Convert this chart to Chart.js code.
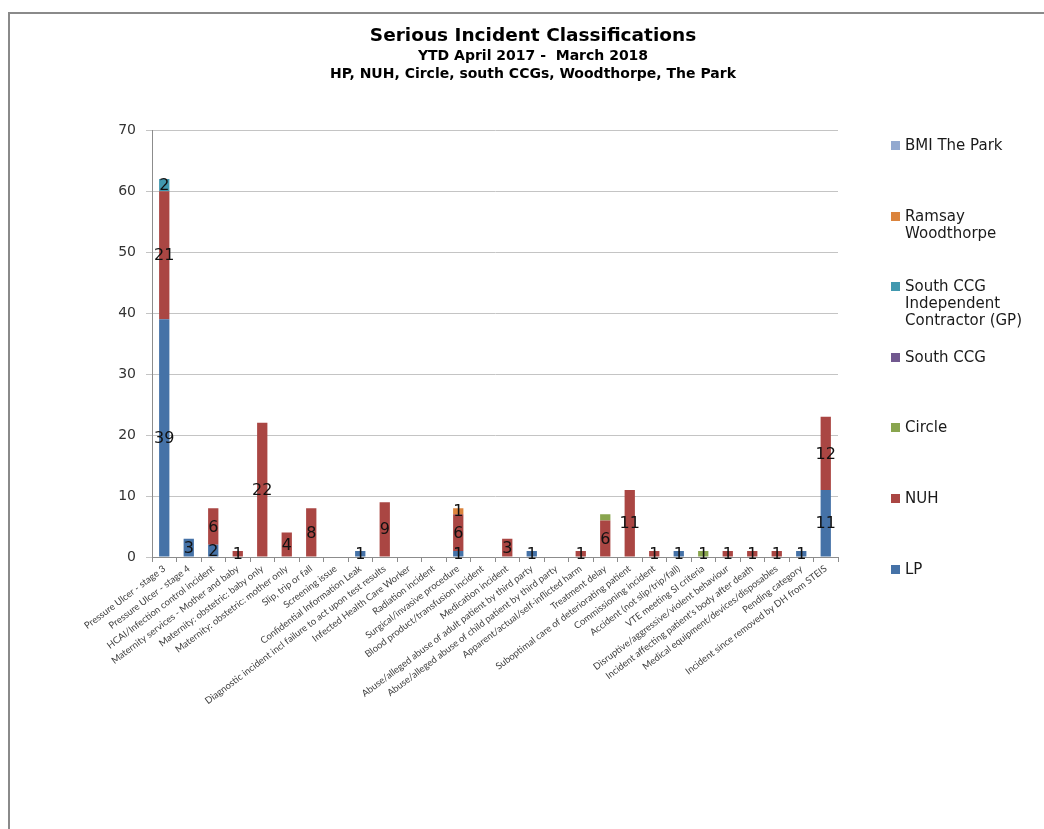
<!DOCTYPE html>
<html>
<head>
<meta charset="utf-8">
<script src="https://cdn.jsdelivr.net/npm/chart.js@4"></script>
<style>
  html, body { margin: 0; padding: 0; background: #fff; overflow: hidden; }
  #frame { position: absolute; left: 8px; top: 12px; width: 1300px; height: 1000px;
           border-top: 2px solid #8a8a8a; border-left: 2px solid #8a8a8a; }
  #wrap { position: absolute; left: 0; top: 0; width: 1044px; height: 829px; }
  #legend { position: absolute; left: 891px; top: 0; font-family: "DejaVu Sans", sans-serif;
            font-size: 15px; line-height: 17px; color: #1a1a1a; }
  .item { position: absolute; left: 0; white-space: nowrap; }
  .box { position: absolute; left: 0; top: 4px; width: 9px; height: 9px; }
  .txt { position: absolute; left: 14px; top: 0; }
</style>
</head>
<body>
<div id="frame"></div>
<div id="wrap"><canvas id="chart" width="1044" height="829"></canvas></div>
<div id="legend"></div>
<script>
// categories and values
const categories = [
  'Pressure Ulcer - stage 3', 'Pressure Ulcer - stage 4', 'HCAI/Infection control incident',
  'Maternity services - Mother and baby', 'Maternity: obstetric: baby only', 'Maternity: obstetric: mother only',
  'Slip, trip or fall', 'Screening issue', 'Confidential Information Leak',
  'Diagnostic incident incl failure to act upon test results', 'Infected Health Care Worker', 'Radiation incident',
  'Surgical/invasive procedure', 'Blood product/transfusion incident', 'Medication incident',
  'Abuse/alleged abuse of adult patient by third party', 'Abuse/alleged abuse of child patient by third party',
  'Apparent/actual/self-inflicted harm', 'Treatment delay', 'Suboptimal care of deteriorating patient',
  'Commissioning incident', 'Accident (not slip/trip/fall)', 'VTE meeting SI criteria',
  'Disruptive/aggressive/violent behaviour', "Incident affecting patient's body after death",
  'Medical equipment/devices/disposables', 'Pending category', 'Incident since removed by DH from STEIS'
];

const lp         = [39, 3, 2, 0, 0, 0, 0, 0, 1, 0, 0, 0, 1, 0, 0, 1, 0, 0, 0, 0, 0, 1, 0, 0, 0, 0, 1, 11];
const nuh        = [21, 0, 6, 1, 22, 4, 8, 0, 0, 9, 0, 0, 6, 0, 3, 0, 0, 1, 6, 11, 1, 0, 0, 1, 1, 1, 0, 12];
const circle     = [0, 0, 0, 0, 0, 0, 0, 0, 0, 0, 0, 0, 0, 0, 0, 0, 0, 0, 1, 0, 0, 0, 1, 0, 0, 0, 0, 0];
const southCcg   = [0, 0, 0, 0, 0, 0, 0, 0, 0, 0, 0, 0, 0, 0, 0, 0, 0, 0, 0, 0, 0, 0, 0, 0, 0, 0, 0, 0];
const southCcgGp = [2, 0, 0, 0, 0, 0, 0, 0, 0, 0, 0, 0, 0, 0, 0, 0, 0, 0, 0, 0, 0, 0, 0, 0, 0, 0, 0, 0];
const ramsay     = [0, 0, 0, 0, 0, 0, 0, 0, 0, 0, 0, 0, 1, 0, 0, 0, 0, 0, 0, 0, 0, 0, 0, 0, 0, 0, 0, 0];
const bmiPark    = [0, 0, 0, 0, 0, 0, 0, 0, 0, 0, 0, 0, 0, 0, 0, 0, 0, 0, 0, 0, 0, 0, 0, 0, 0, 0, 0, 0];

const yTicks = [0, 10, 20, 30, 40, 50, 60, 70];

// the small circle segment on "Treatment delay" has no number in the original
const hiddenLabels = [['Circle', 18]];

const series = [
  { label: 'LP', data: lp, color: '#4572A7' },
  { label: 'NUH', data: nuh, color: '#AA4643' },
  { label: 'Circle', data: circle, color: '#89A54E' },
  { label: 'South CCG', data: southCcg, color: '#71588F' },
  { label: ['South CCG', 'Independent', 'Contractor (GP)'], data: southCcgGp, color: '#4198AF' },
  { label: ['Ramsay', 'Woodthorpe'], data: ramsay, color: '#DB843D' },
  { label: 'BMI The Park', data: bmiPark, color: '#93A9CF' }
];

// numbers in the middle of each segment
const segmentLabels = {
  id: 'segmentLabels',
  afterDatasetsDraw(chart) {
    const ctx = chart.ctx;
    ctx.save();
    ctx.font = '16px "DejaVu Sans"';
    ctx.fillStyle = '#111';
    ctx.textAlign = 'center';
    ctx.textBaseline = 'middle';
    chart.data.datasets.forEach((ds, i) => {
      const name = Array.isArray(ds.label) ? ds.label.join(' ') : ds.label;
      chart.getDatasetMeta(i).data.forEach((bar, j) => {
        const v = ds.data[j];
        if (!v) return;
        if (hiddenLabels.some(h => h[0] === name && h[1] === j)) return;
        ctx.fillText(String(v), bar.x, (bar.y + bar.base) / 2 + 1);
      });
    });
    ctx.restore();
  }
};

const chart = new Chart(document.getElementById('chart'), {
  type: 'bar',
  data: {
    labels: categories,
    datasets: series.map(s => ({
      label: s.label,
      data: s.data,
      backgroundColor: s.color,
      borderWidth: 0,
      barPercentage: 0.42,
      categoryPercentage: 1
    }))
  },
  plugins: [segmentLabels],
  options: {
    responsive: false,
    animation: false,
    devicePixelRatio: 1,
    layout: { padding: { left: 22, right: 0, top: 0, bottom: 0 } },
    plugins: {
      legend: { display: false },
      tooltip: { enabled: false },
      title: {
        display: true,
        text: 'Serious Incident Classifications',
        color: '#000',
        font: { family: 'DejaVu Sans', size: 18.5, weight: 'bold', lineHeight: 1.2 },
        padding: { top: 25, bottom: 0 }
      },
      subtitle: {
        display: true,
        text: ['YTD April 2017 -  March 2018', 'HP, NUH, Circle, south CCGs, Woodthorpe, The Park'],
        color: '#000',
        font: { family: 'DejaVu Sans', size: 14, weight: 'bold', lineHeight: 18 / 14 },
        padding: { top: 0, bottom: 47 }
      }
    },
    scales: {
      x: {
        stacked: true,
        afterFit(scale) { scale.height = 272; },
        grid: { offset: true, drawOnChartArea: false, drawTicks: true, tickLength: 5, color: '#8c8c8c' },
        border: { display: true, color: '#8c8c8c' },
        ticks: {
          autoSkip: false,
          minRotation: 37,
          maxRotation: 37,
          padding: 1,
          color: '#404040',
          font: { family: 'Lato', size: 9.5 }
        }
      },
      y: {
        stacked: true,
        min: 0,
        max: 70,
        afterFit(scale) { scale.width = 130; },
        afterBuildTicks(scale) { scale.ticks = yTicks.map(v => ({ value: v })); },
        grid: { color: '#c4c4c4', tickLength: 6, drawTicks: true },
        border: { display: true, color: '#8c8c8c' },
        ticks: {
          padding: 10,
          color: '#333',
          font: { family: 'DejaVu Sans', size: 14 }
        }
      },
      // empty right-hand strip where the legend sits
      spacer: {
        type: 'linear',
        position: 'right',
        min: 0,
        max: 1,
        afterFit(scale) { scale.width = 206; },
        grid: { display: false },
        border: { display: false },
        ticks: { display: false }
      }
    }
  }
});

// legend: reversed order, first lines 70.6px apart as in the original
const legend = document.getElementById('legend');
series.slice().reverse().forEach((s, i) => {
  const lines = Array.isArray(s.label) ? s.label : [s.label];
  const item = document.createElement('div');
  item.className = 'item';
  item.style.top = (137 + i * 70.6) + 'px';
  item.innerHTML = '<div class="box" style="background:' + s.color + '"></div>' +
                   '<div class="txt">' + lines.join('<br>') + '</div>';
  legend.appendChild(item);
});
</script>
</body>
</html>
